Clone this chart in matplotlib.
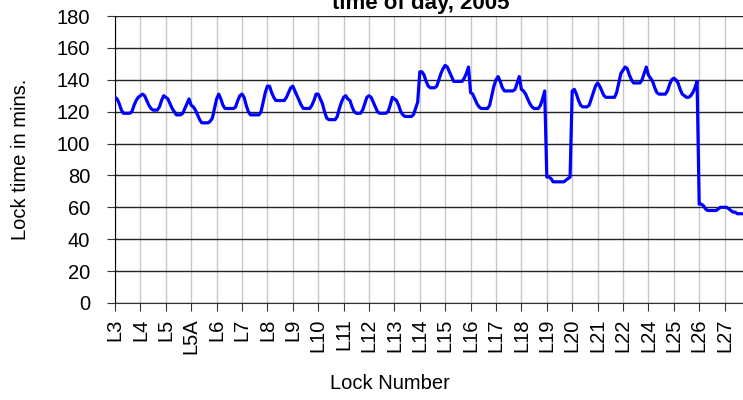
# Lock time by time of day, 2005 - hourly-ish profile per lock
import numpy as np
import matplotlib.pyplot as plt

plt.rcParams['font.family'] = ['Liberation Sans', 'DejaVu Sans']

locks = ['L3', 'L4', 'L5', 'L5A', 'L6', 'L7', 'L8', 'L9', 'L10', 'L11', 'L12',
         'L13', 'L14', 'L15', 'L16', 'L17', 'L18', 'L19', 'L20', 'L21', 'L22',
         'L24', 'L25', 'L26', 'L27']

# lock time (mins) through the day, 12 readings per lock
l3 = [129, 128, 125, 121, 119, 119, 119, 119, 120, 124, 127, 129]
l4 = [130, 131, 130, 127, 124, 122, 121, 121, 121, 123, 127, 130]
l5 = [129, 128, 125, 122, 120, 118, 118, 118, 119, 122, 125, 128]
l5a = [124, 123, 121, 118, 115, 113, 113, 113, 113, 114, 116, 122]
l6 = [128, 131, 128, 124, 122, 122, 122, 122, 122, 123, 127, 130]
l7 = [131, 129, 124, 120, 118, 118, 118, 118, 118, 120, 126, 132]
l8 = [136, 136, 132, 129, 127, 127, 127, 127, 127, 129, 132, 135]
l9 = [136, 133, 130, 127, 124, 122, 122, 122, 122, 124, 127, 131]
l10 = [131, 128, 125, 120, 116, 115, 115, 115, 115, 117, 122, 126]
l11 = [129, 130, 128, 127, 123, 120, 119, 119, 119, 121, 125, 129]
l12 = [130, 129, 126, 123, 120, 119, 119, 119, 119, 120, 124, 129]
l13 = [128, 127, 124, 120, 118, 117, 117, 117, 117, 118, 122, 126]
l14 = [145, 145, 143, 139, 136, 135, 135, 135, 136, 140, 144, 147]
l15 = [149, 148, 145, 142, 139, 139, 139, 139, 139, 141, 144, 148]
l16 = [132, 131, 128, 125, 123, 122, 122, 122, 122, 124, 130, 136]
l17 = [140, 142, 139, 135, 133, 133, 133, 133, 133, 134, 138, 142]
l18 = [134, 133, 131, 128, 125, 123, 122, 122, 122, 124, 128, 133]
l19 = [79, 79, 78, 76, 76, 76, 76, 76, 76, 77, 78, 79]
l20 = [133, 134, 131, 127, 124, 123, 123, 123, 124, 128, 132, 136]
l21 = [138, 136, 133, 130, 129, 129, 129, 129, 129, 132, 138, 144]
l22 = [146, 148, 147, 143, 140, 138, 138, 138, 138, 140, 144, 148]
l24 = [143, 141, 139, 135, 132, 131, 131, 131, 131, 133, 137, 140]
l25 = [141, 140, 138, 134, 131, 130, 129, 129, 130, 132, 135, 139]
l26 = [62, 62, 61, 59, 58, 58, 58, 58, 58, 59, 60, 60]
l27 = [60, 60, 59, 58, 57, 57, 56, 56, 56, 56, 56, 56]

times = (l3 + l4 + l5 + l5a + l6 + l7 + l8 + l9 + l10 + l11 + l12 + l13 + l14
         + l15 + l16 + l17 + l18 + l19 + l20 + l21 + l22 + l24 + l25 + l26 + l27)
per_lock = len(l3)

fig = plt.figure(figsize=(7.43, 4), dpi=100)
# plot area runs a little past the right edge, like the cropped original
ax = fig.add_axes([115/743, 97/400, 635/743, 287/400])

x = np.arange(len(times))
ax.plot(x, times, color='#0000ff', lw=2.3, solid_joinstyle='round', zorder=3)

ax.set_xlim(0, len(locks) * per_lock)
ax.set_ylim(0, 180)
ax.set_xticks(np.arange(len(locks)) * per_lock)
ax.set_xticklabels(locks, rotation=90, fontsize=14.5)
ax.set_yticks(np.arange(0, 181, 20))
ax.tick_params(axis='y', labelsize=14.5, length=6, pad=12, color='#333333')
ax.tick_params(axis='x', length=6, pad=5, color='#333333')

ax.yaxis.grid(True, color='#222222', lw=1)
ax.xaxis.grid(True, color='#c8c8c8', lw=1)
ax.set_axisbelow(True)
ax.spines['top'].set_visible(False)
ax.spines['right'].set_visible(False)
ax.spines['left'].set_color('black')
ax.spines['bottom'].set_color('#333333')

ax.set_ylabel('Lock time in mins.', fontsize=14.5, labelpad=19)
ax.set_xlabel('Lock Number', fontsize=14.5)
ax.xaxis.set_label_coords((390 - 115) / 635, -(374 - 303) / 287)

fig.text(421/743, 1 - 9/400, 'time of day, 2005', ha='center', va='baseline',
         fontsize=16, fontweight='bold')

fig.savefig('out.png', dpi=100)
